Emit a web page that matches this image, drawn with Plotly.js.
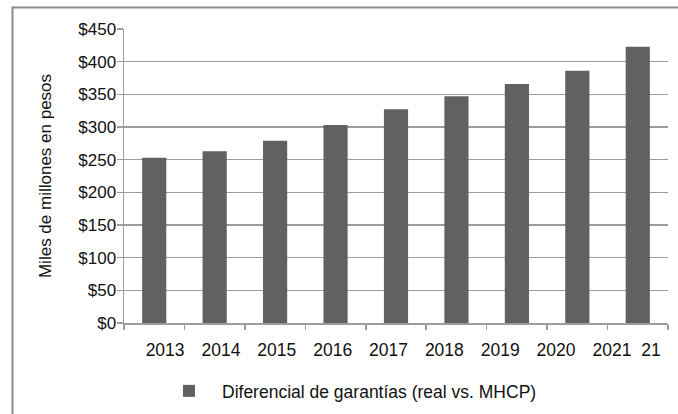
<!DOCTYPE html>
<html><head><meta charset="utf-8">
<script src="https://cdn.plot.ly/plotly-3.0.1.min.js"></script>
<style>html,body{margin:0;padding:0;background:#fff}</style>
</head><body>
<div id="chart" style="width:678px;height:414px"></div>
<script>
// Data
const years = ["2013","2014","2015","2016","2017","2018","2019","2020","2021"];
const values = [253, 263, 279, 303, 327, 347, 366, 386, 423];
const tickLabels = ["2013","2014","2015","2016","2017","2018","2019","2020","2021","21"];
const seriesName = "Diferencial de garantías (real vs. MHCP)";
const yTitle = "Miles de millones en pesos";
const yTickVals = [0, 50, 100, 150, 200, 250, 300, 350, 400, 450];

const FONT = "Liberation Sans, Arial, sans-serif";
const GRID = "#9c9c9c";

// label positions (layout styling: labels are drawn slightly compressed in the original)
const labelPos = tickLabels.map((_, i) => i < years.length ? 0.18 + i * 0.924 : 8.22);

const traces = [
  {
    type: "bar",
    x: years,
    y: values,
    name: seriesName,
    marker: {color: "#606160"},
    hoverinfo: "x+y"
  },
  {
    type: "scatter",
    x: [], y: [],
    xaxis: "x2",
    showlegend: false,
    hoverinfo: "skip"
  }
];

const layout = {
  width: 678, height: 414,
  margin: {l: 124, r: 10, t: 29, b: 91},
  paper_bgcolor: "#ffffff",
  plot_bgcolor: "#ffffff",
  font: {family: FONT, color: "#111111", size: 16},
  bargap: 0.6,
  showlegend: true,
  legend: {
    orientation: "h",
    xref: "container", yref: "container",
    x: 156 / 678, y: 1 - 391 / 414,
    xanchor: "left", yanchor: "middle",
    itemwidth: 56,
    font: {family: FONT, size: 17.5, color: "#111111"},
    bgcolor: "rgba(0,0,0,0)"
  },
  xaxis: {
    type: "category",
    range: [-0.5, years.length - 0.5],
    showticklabels: false,
    ticks: "outside",
    tickson: "boundaries",
    ticklen: 5,
    tickwidth: 1.5,
    tickcolor: GRID,
    showline: true,
    linecolor: GRID,
    linewidth: 1.5,
    showgrid: false,
    zeroline: false,
    fixedrange: true
  },
  xaxis2: {
    overlaying: "x",
    anchor: "y",
    side: "bottom",
    range: [-0.5, years.length - 0.5],
    tickmode: "array",
    tickvals: labelPos,
    ticktext: tickLabels,
    ticks: "",
    ticklabelstandoff: 14,
    showline: false,
    showgrid: false,
    zeroline: false,
    tickfont: {family: FONT, size: 17.5, color: "#111111"},
    fixedrange: true
  },
  yaxis: {
    range: [0, 450],
    tickmode: "array",
    tickvals: yTickVals,
    ticktext: yTickVals.map(v => "$" + v),
    ticks: "outside",
    ticklen: 6,
    tickwidth: 1.5,
    tickcolor: GRID,
    showline: true,
    linecolor: GRID,
    linewidth: 1.5,
    showgrid: true,
    gridcolor: GRID,
    gridwidth: 1.5,
    zeroline: false,
    ticklabelstandoff: -3,
    tickfont: {family: FONT, size: 17, color: "#111111"},
    title: {text: yTitle, font: {family: FONT, size: 17, color: "#111111"}, standoff: 22},
    fixedrange: true
  },
  shapes: [
    {
      type: "rect", xref: "paper", yref: "paper",
      x0: (12.5 - 124) / 544, x1: 1.2,
      y0: -0.6, y1: (323 - 7.5) / 294,
      line: {color: "#8c8c8c", width: 2},
      fillcolor: "rgba(0,0,0,0)",
      layer: "below"
    }
  ]
};

Plotly.newPlot("chart", traces, layout, {displayModeBar: false, staticPlot: true});
</script>
</body></html>
